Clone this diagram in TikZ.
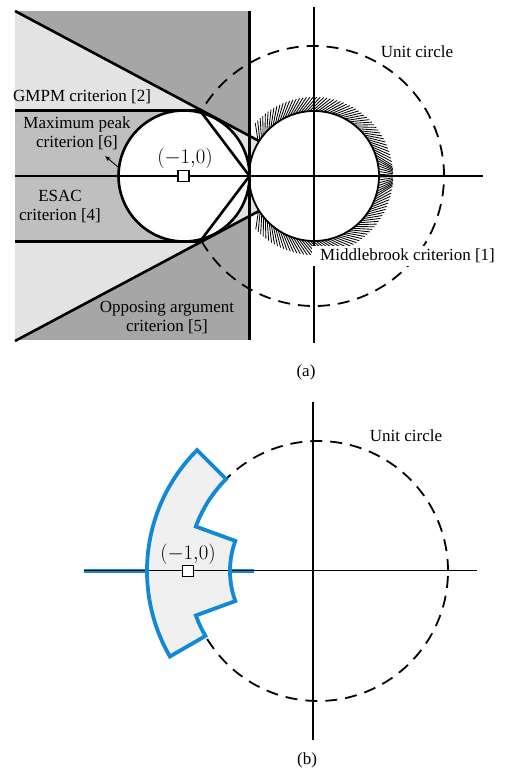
\documentclass[tikz,border=0pt]{standalone}
\usepackage{fontspec}
\setmainfont{Liberation Serif}
\usetikzlibrary{arrows.meta}
\definecolor{darkg}{gray}{0.65}
\definecolor{midg}{gray}{0.75}
\definecolor{lightg}{gray}{0.89}
\definecolor{shapefill}{gray}{0.94}
\definecolor{bblue}{RGB}{18,137,215}
\newcommand{\myBshape}{(135:171) arc[start angle=135,end angle=210,radius=171] -- (210:130) arc[start angle=210,end angle=200,radius=130] -- (200:88) arc[start angle=200,end angle=160,radius=88] -- (160:130) arc[start angle=160,end angle=135,radius=130] -- cycle}
\begin{document}
\begin{tikzpicture}[x=1pt,y=1pt,
  lbl/.style={font=\fontsize{17}{19}\selectfont, align=center, inner sep=0pt},
  mathlbl/.style={font=\fontsize{20}{22}\selectfont, inner sep=0pt},
  thickln/.style={line width=2.6pt},
  axisln/.style={line width=1.1pt},
  hatchln/.style={line width=0.85pt},
  unitc/.style={line width=1.8pt, dash pattern=on 12pt off 8pt},
  sq/.style={draw, fill=white, line width=1.2pt, minimum size=11pt, inner sep=0pt, rectangle}]
\fill[white] (0,0) rectangle (510,768);
\useasboundingbox (0,0) rectangle (510,768);
% ---------------- (a) ----------------
\coordinate (Oa) at (314,592);
\fill[darkg] (15,427.5) rectangle (249.5,756.5);
% hatching of the Middlebrook boundary
\begin{scope}
  \clip (249.5,400) rectangle (500,780);
  \begin{scope}[shift={(314,592)}]
    \foreach \a in {-148.5,-146,...,149} {
      \pgfmathsetmacro\dd{11*max(-1,min(1,\a/18))}
      \draw[hatchln] (\a:65) -- ({\a-\dd}:79);
    }
  \end{scope}
\end{scope}
% GMPM wedge
\fill[lightg] (15,757) -- (259,627) arc[start angle=147.5, end angle=212.5, radius=65] -- (15,427) -- cycle;
% ESAC region
\fill[midg] (15,657.5) -- (200,657.5) -- (249.5,592) -- (200,526.5) -- (15,526.5) -- cycle;
% maximum peak circle
\fill[white] (184,592) circle[radius=65.5];
% axes
\draw[axisln] (15,592) -- (483,592);
\draw[axisln] (314,761) -- (314,425);
% unit circle
\draw[unitc] (Oa) ++(-150:130) arc[start angle=-150, end angle=150, radius=130];
% criterion boundaries
\draw[thickln] (15,757) -- (259,627);
\draw[thickln] (15,427) -- (259,557);
\draw[thickln, line join=miter] (15,657.5) -- (200,657.5) -- (249.5,592) -- (200,526.5) -- (15,526.5);
\draw[thickln] (184,592) circle[radius=65.5];
\draw[thickln] (249.5,756.5) -- (249.5,427.5);
\draw[line width=1.8pt] (Oa) circle[radius=65];
% labels
\node[lbl, anchor=base west] (gmpm) at (13,666.5) {GMPM criterion [2]};
\node[lbl] (mp) at (77,635) {Maximum peak\\criterion [6]};
\node[lbl] (esac) at (60,561) {ESAC\\criterion [4]};
\node[lbl] (opp) at (167,450.5) {Opposing argument\\criterion [5]};
\node[lbl] (uca) at (417,716) {Unit circle};
\node[lbl, fill=white, anchor=west, inner xsep=8pt, inner ysep=3pt] (mb) at (312,512) {Middlebrook criterion [1]};
\node[mathlbl] (ma) at (185,610) {$(-1{,}0)$};
\node[sq] (sqa) at (183.5,592) {};
\coordinate (mptail) at (118,601);
\coordinate (mphead) at (105,612);
\draw[line width=0.9pt, -{Stealth[length=6pt,width=4.5pt]}] (mptail) -- (mphead);
\node[lbl] (capa) at (306,396) {(a)};
% ---------------- (b) ----------------
\coordinate (Cb) at (318,197);
\draw[unitc] (Cb) circle[radius=130];
\draw[bblue, line width=3.6pt] (84,197) -- (254,197);
\begin{scope}[shift={(318,197)}]
  \fill[shapefill] \myBshape;
\end{scope}
\draw[line width=1pt] (84,197) -- (477,197);
\draw[axisln] (313,366) -- (313,28);
\begin{scope}[shift={(318,197)}]
  \draw[bblue, line width=3.8pt, line join=miter] \myBshape;
\end{scope}
\node[sq] (sqb) at (188,197) {};
\node[mathlbl] (mb2) at (188,214) {$(-1{,}0)$};
\node[lbl] (ucb) at (406,332) {Unit circle};
\node[lbl] (capb) at (307,8) {(b)};
\end{tikzpicture}
\end{document}
